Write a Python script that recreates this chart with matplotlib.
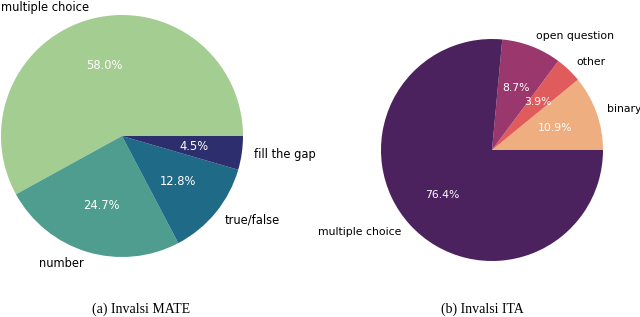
import matplotlib
matplotlib.use('Agg')
import matplotlib.pyplot as plt

# Invalsi MATE question types
mate_labels = ['multiple choice', 'number', 'true/false', 'fill the gap']
mate_values = [58.0, 24.7, 12.8, 4.5]
mate_colors = ['#a4cd91', '#4e9d8e', '#1f6a87', '#2c2e6e']

# Invalsi ITA question types
ita_labels = ['binary', 'other', 'open question', 'multiple choice']
ita_values = [10.9, 3.9, 8.7, 76.4]
ita_colors = ['#eeae80', '#e05c5c', '#9a376d', '#4b215e']

W, H = 640, 317
fig = plt.figure(figsize=(W / 100, H / 100), dpi=100)


def pie_axes(cx, cy, r):
    # place a square axes so that the unit pie has center (cx, cy) and radius r in pixels
    side = 3 * r
    ax = fig.add_axes([(cx - side / 2) / W, (H - cy - side / 2) / H, side / W, side / H])
    return ax


def value_fmt(values):
    # print the given percentages as they are (the ITA ones sum to 99.9)
    it = iter(values)
    return lambda pct: '%.1f%%' % next(it)


def draw_pie(ax, values, labels, colors, fs):
    w, t, a = ax.pie(values, labels=labels, colors=colors, autopct=value_fmt(values),
                     startangle=0, textprops={'fontsize': fs})
    for txt in a:
        txt.set_color('white')
    ax.set_xlim(-1.5, 1.5)
    ax.set_ylim(-1.5, 1.5)
    ax.axis('off')


ax1 = pie_axes(122, 136, 121)
draw_pie(ax1, mate_values, mate_labels, mate_colors, 8.3)

ax2 = pie_axes(492, 150, 111)
draw_pie(ax2, ita_values, ita_labels, ita_colors, 7.8)

fig.text(141 / W, 1 - 309 / H, '(a) Invalsi MATE', ha='center', va='center',
         family='Liberation Serif', fontsize=10)
fig.text(482 / W, 1 - 309 / H, '(b) Invalsi ITA', ha='center', va='center',
         family='Liberation Serif', fontsize=10)

fig.savefig('out.png', dpi=100)
